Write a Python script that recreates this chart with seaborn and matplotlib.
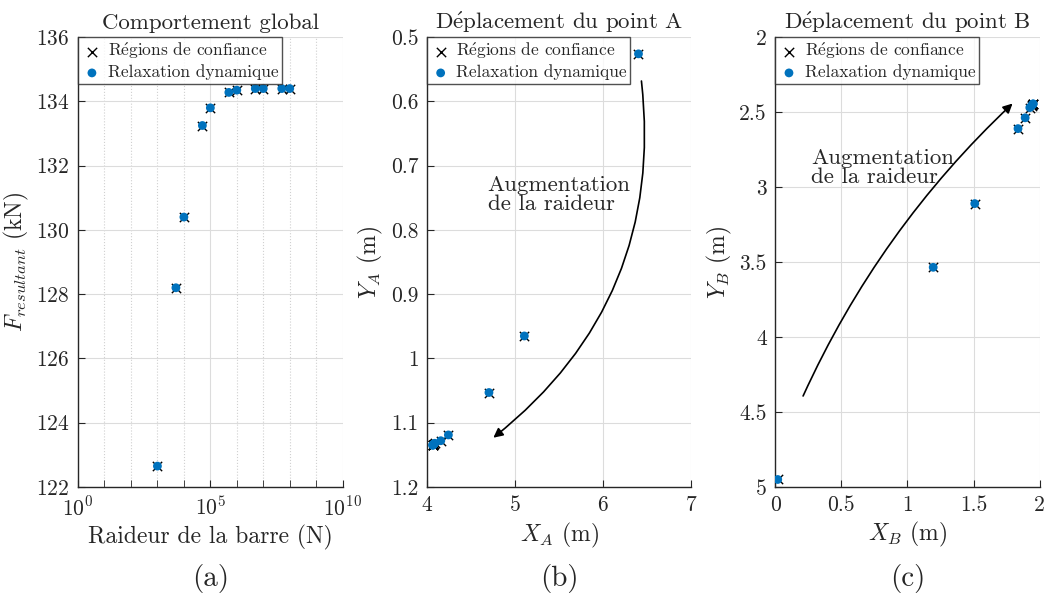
import numpy as np
import matplotlib
matplotlib.use("Agg")
import matplotlib.pyplot as plt
from matplotlib.ticker import FixedLocator, FixedFormatter, NullFormatter
import seaborn as sns

# ---- data ----
raideur = [1e3, 5e3, 1e4, 5e4, 1e5, 5e5, 1e6, 5e6, 1e7, 5e7, 1e8]
f_resultant = [122.65, 128.2, 130.4, 133.25, 133.8, 134.28, 134.35, 134.4, 134.4, 134.4, 134.4]

xa = [6.40, 5.106, 4.705, 4.245, 4.159, 4.09, 4.083, 4.075, 4.07, 4.068, 4.068]
ya = [0.526, 0.965, 1.053, 1.119, 1.128, 1.132, 1.133, 1.134, 1.134, 1.135, 1.135]

xb = [0.02, 1.195, 1.509, 1.836, 1.89, 1.925, 1.938, 1.944, 1.948, 1.95, 1.95]
yb = [4.95, 3.535, 3.11, 2.61, 2.538, 2.47, 2.458, 2.452, 2.448, 2.446, 2.445]

# accented e written with mathtext so it stays in Computer Modern
E = r"$\acute{\mathrm{e}}$"
titles = ["Comportement global", f"D{E}placement du point A", f"D{E}placement du point B"]
sublabels = ["(a)", "(b)", "(c)"]
lab_conf = f"R{E}gions de confiance"
lab_relax = "Relaxation dynamique"
blue = "#0072BD"

sns.set_style("whitegrid")
plt.rcParams["font.family"] = ["cmr10", "DejaVu Serif"]
plt.rcParams["mathtext.fontset"] = "cm"
plt.rcParams["axes.formatter.use_mathtext"] = True
plt.rcParams["axes.unicode_minus"] = False

fig = plt.figure(figsize=(10.46, 5.99), dpi=100)
lefts = [0.0746, 0.408, 0.741]
axes = [fig.add_axes([l, 0.187, 0.253, 0.751]) for l in lefts]


def draw_points(ax, x, y):
    sns.scatterplot(x=x, y=y, ax=ax, marker="x", color="k", s=45,
                    linewidth=1.0, label=lab_conf, zorder=3)
    sns.scatterplot(x=x, y=y, ax=ax, marker="o", color=blue, s=40,
                    edgecolor="none", label=lab_relax, zorder=4)


def style_axes(ax):
    for side in ["top", "right"]:
        ax.spines[side].set_visible(False)
    for side in ["left", "bottom"]:
        ax.spines[side].set_color("#262626")
        ax.spines[side].set_linewidth(1.0)
    ax.grid(True, which="major", color="#dcdcdc", linewidth=0.8)
    ax.tick_params(which="both", direction="in", length=5, labelsize=15.5,
                   color="#262626", left=True, bottom=True, pad=6)
    ax.set_axisbelow(True)
    leg = ax.legend(loc="upper left", frameon=True, fancybox=False,
                    borderaxespad=0, fontsize=12.5, handletextpad=0.3,
                    borderpad=0.2, labelspacing=0.2, handlelength=1.2)
    leg.get_frame().set_edgecolor("#262626")
    leg.get_frame().set_linewidth(1.0)


# (a) global behaviour
ax = axes[0]
draw_points(ax, raideur, f_resultant)
ax.set_xscale("log")
ax.set_xlim(1, 1e10)
ax.set_ylim(122, 136)
ax.xaxis.set_major_locator(FixedLocator([1, 1e5, 1e10]))
ax.xaxis.set_major_formatter(FixedFormatter([r"$10^0$", r"$10^5$", r"$10^{10}$"]))
ax.xaxis.set_minor_locator(FixedLocator([10.0 ** k for k in range(1, 10) if k != 5]))
ax.xaxis.set_minor_formatter(NullFormatter())
ax.set_yticks(np.arange(122, 137, 2))
ax.grid(True, which="minor", axis="x", color="#d0d0d0", linestyle=":", linewidth=0.8)
ax.set_xlabel("Raideur de la barre (N)", fontsize=17)
ax.set_ylabel(r"$F_{resultant}$ (kN)", fontsize=17)
style_axes(ax)

# (b) point A
ax = axes[1]
draw_points(ax, xa, ya)
ax.set_xlim(4, 7)
ax.set_ylim(1.2, 0.5)
ax.set_xticks([4, 5, 6, 7])
yt = [0.5, 0.6, 0.7, 0.8, 0.9, 1.0, 1.1, 1.2]
ax.set_yticks(yt)
ax.set_yticklabels([f"{v:g}" for v in yt])
ax.set_xlabel(r"$X_A$ (m)", fontsize=17)
ax.set_ylabel(r"$Y_A$ (m)", fontsize=17)
ax.annotate("", xy=(4.73, 1.126), xytext=(6.43, 0.564),
            arrowprops=dict(arrowstyle="-|>", color="k", lw=1.2,
                            connectionstyle="arc3,rad=-0.28", mutation_scale=14))
ax.text(4.69, 0.745, "Augmentation\nde la raideur", fontsize=16.5,
        va="center", ha="left", linespacing=1.0)
style_axes(ax)

# (c) point B
ax = axes[2]
draw_points(ax, xb, yb)
ax.set_xlim(0, 2)
ax.set_ylim(5, 2)
xt = [0, 0.5, 1, 1.5, 2]
ax.set_xticks(xt)
ax.set_xticklabels([f"{v:g}" for v in xt])
yt = [2, 2.5, 3, 3.5, 4, 4.5, 5]
ax.set_yticks(yt)
ax.set_yticklabels([f"{v:g}" for v in yt])
ax.set_xlabel(r"$X_B$ (m)", fontsize=17)
ax.set_ylabel(r"$Y_B$ (m)", fontsize=17)
ax.annotate("", xy=(1.81, 2.43), xytext=(0.203, 4.41),
            arrowprops=dict(arrowstyle="-|>", color="k", lw=1.2,
                            connectionstyle="arc3,rad=-0.1", mutation_scale=14))
ax.text(0.27, 2.87, "Augmentation\nde la raideur", fontsize=16.5,
        va="center", ha="left", linespacing=1.0)
style_axes(ax)

for ax, t, lab in zip(axes, titles, sublabels):
    ax.set_title(t, fontsize=16.5, pad=6)
    pos = ax.get_position()
    fig.text(pos.x0 + pos.width / 2, 0.035, lab, fontsize=21, ha="center", va="center")

fig.savefig("out.png", dpi=100)
